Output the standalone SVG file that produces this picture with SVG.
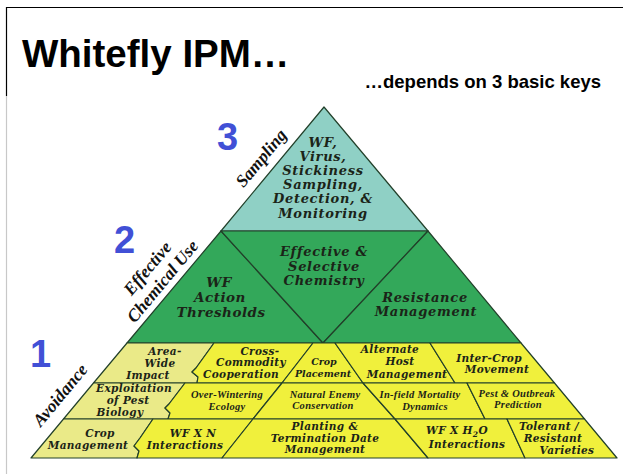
<svg xmlns="http://www.w3.org/2000/svg" width="623" height="474" viewBox="0 0 623 474">
<style>
.t{font-family:"DejaVu Serif",serif;font-weight:bold;font-style:italic;fill:#1b2418;text-anchor:middle}
.b{font-size:13.5px;letter-spacing:0.5px}
.tb{font-size:13px;letter-spacing:0.7px}
.s{font-size:10.5px;letter-spacing:0.35px}
.xs{font-size:9.5px}
.tn{font-family:"Liberation Serif",serif;font-weight:bold;font-style:italic;font-size:10.5px;letter-spacing:0.3px;fill:#1b2418;text-anchor:middle}
.side{font-family:"Liberation Serif",serif;font-weight:bold;font-style:italic;font-size:17.5px;fill:#111;text-anchor:middle}
.num{font-family:"Liberation Sans",Arial,sans-serif;font-weight:bold;font-size:38px;fill:#4150d6}
.e{stroke:#22402a;stroke-width:1.2;stroke-linejoin:round}
.teal{fill:#8fd0c5}
.green{fill:#33a85a}
.y{fill:#f0f03c}
.p{fill:#eaea88}
</style>
<rect width="623" height="474" fill="#fff"/>
<g id="frame" fill="none">
<line x1="6" y1="7.5" x2="623" y2="7.5" stroke="#000" stroke-width="1.2"/>
<line x1="6.5" y1="7" x2="6.5" y2="96" stroke="#000" stroke-width="1.2"/>
<line x1="6.5" y1="96" x2="6.5" y2="474" stroke="#c8c8c8" stroke-width="1.2"/>
</g>
<g id="title" font-family="'Liberation Sans',Arial,sans-serif" font-weight="bold" fill="#000">
<text x="22" y="67" font-size="38.5">Whitefly IPM…</text>
<text x="601" y="88" font-size="18.5" text-anchor="end">…depends on 3 basic keys</text>
</g>
<g id="numbers">
<text class="num" x="217" y="150">3</text>
<text class="num" x="114" y="253">2</text>
<text class="num" x="30" y="367">1</text>
</g>
<g id="side-labels">
<text class="side" transform="translate(265.5,161.8) rotate(-50.3)">Sampling</text>
<text class="side" transform="translate(152,272) rotate(-50.3)">Effective</text>
<text class="side" transform="translate(167,285) rotate(-50.3)">Chemical Use</text>
<text class="side" transform="translate(64.6,398.8) rotate(-50.3)">Avoidance</text>
</g>
<g id="tier3-sampling">
<polygon class="teal e" points="324,107 428,231 221,231"/>
<text class="t tb" x="323" y="146.5">WF,</text>
<text class="t tb" x="323" y="160.7">Virus,</text>
<text class="t tb" x="323" y="174.9">Stickiness</text>
<text class="t tb" x="323" y="189.1">Sampling,</text>
<text class="t tb" x="323" y="203.3">Detection, &amp;</text>
<text class="t tb" x="323" y="217.5">Monitoring</text>
</g>
<g id="wf-action-thresholds">
<polygon class="green e" points="221,231 323,343 127,343"/>
<text class="t b" x="219" y="287">WF</text>
<text class="t b" x="220" y="302">Action</text>
<text class="t b" x="221" y="317">Thresholds</text>
</g>
<g id="selective-chemistry">
<polygon class="green e" points="221,231 428,231 323,343"/>
<text class="t tb" x="324" y="256.3">Effective &amp;</text>
<text class="t tb" x="324" y="270.6">Selective</text>
<text class="t tb" x="324" y="284.9">Chemistry</text>
</g>
<g id="resistance-management">
<polygon class="green e" points="428,231 521,343 323,343"/>
<text class="t tb" x="425" y="301.5">Resistance</text>
<text class="t tb" x="426" y="315.8">Management</text>
</g>
<g id="area-wide-impact">
<polygon class="p e" points="127,343 214,343 196,368 192,372 198,377 197,383 93.5,383"/>
<text class="t s" x="165" y="355">Area-</text>
<text class="t s" x="160" y="367">Wide</text>
<text class="t s" x="148" y="379">Impact</text>
</g>
<g id="cross-commodity">
<polygon class="y e" points="214,343 313,343 282,383 197,383 198,377 192,372 196,368"/>
<text class="t s" x="260" y="355">Cross-</text>
<text class="t s" x="251" y="366">Commodity</text>
<text class="t s" x="241" y="378">Cooperation</text>
</g>
<g id="crop-placement">
<polygon class="y e" points="313,343 335,343 363,383 282,383"/>
<text class="t xs" x="324" y="365">Crop</text>
<text class="t xs" x="323" y="377">Placement</text>
</g>
<g id="alternate-host">
<polygon class="y e" points="335,343 430,343 455,383 363,383"/>
<text class="t s" x="390" y="353">Alternate</text>
<text class="t s" x="400" y="365">Host</text>
<text class="t s" x="407" y="378">Management</text>
</g>
<g id="inter-crop">
<polygon class="y e" points="430,343 521,343 554.5,383 455,383"/>
<text class="t s" x="489" y="362">Inter-Crop</text>
<text class="t s" x="497" y="373">Movement</text>
</g>
<g id="exploitation">
<polygon class="p e" points="93.5,383 185,383 169,404 165,408 170,413 168,419 63.5,419"/>
<text class="t s" x="134" y="392">Exploitation</text>
<text class="t s" x="128" y="404">of Pest</text>
<text class="t s" x="120" y="416">Biology</text>
</g>
<g id="over-wintering">
<polygon class="y e" points="185,383 282,383 253,419 168,419 170,413 165,408 169,404"/>
<text class="tn" x="227" y="398">Over-Wintering</text>
<text class="tn" x="227" y="410">Ecology</text>
</g>
<g id="natural-enemy">
<polygon class="y e" points="282,383 363,383 395,419 253,419"/>
<text class="tn" x="325" y="398">Natural Enemy</text>
<text class="tn" x="323" y="409">Conservation</text>
</g>
<g id="in-field-mortality">
<polygon class="y e" points="363,383 467,383 485,419 395,419"/>
<text class="tn" x="420" y="398">In-field Mortality</text>
<text class="tn" x="425" y="410">Dynamics</text>
</g>
<g id="pest-outbreak">
<polygon class="y e" points="467,383 554.5,383 584.5,419 485,419"/>
<text class="tn" x="517" y="397">Pest &amp; Outbreak</text>
<text class="tn" x="518" y="408">Prediction</text>
</g>
<g id="crop-management">
<polygon class="p e" points="63.5,419 153,419 140,438 134,446 139,451 137,458 31,458"/>
<text class="t s" x="100" y="437">Crop</text>
<text class="t s" x="88" y="449">Management</text>
</g>
<g id="wf-x-n">
<polygon class="y e" points="153,419 253,419 222,458 137,458 139,451 134,446 140,438"/>
<text class="t s" x="193" y="437">WF X N</text>
<text class="t s" x="185" y="449">Interactions</text>
</g>
<g id="planting-termination">
<polygon class="y e" points="253,419 395,419 428,458 222,458"/>
<text class="t s" x="325" y="430">Planting &amp;</text>
<text class="t s" x="325" y="442">Termination Date</text>
<text class="t s" x="325" y="453">Management</text>
</g>
<g id="wf-x-h2o">
<polygon class="y e" points="395,419 507,419 525,458 428,458"/>
<text class="t s" x="457" y="434">WF X H<tspan font-size="7.5" dy="2.5">2</tspan><tspan dy="-2.5">O</tspan></text>
<text class="t s" x="467" y="448">Interactions</text>
</g>
<g id="tolerant-varieties">
<polygon class="y e" points="507,419 584.5,419 617,458 525,458"/>
<text class="t s" x="549" y="430">Tolerant /</text>
<text class="t s" x="553" y="442">Resistant</text>
<text class="t s" x="567" y="454">Varieties</text>
</g>
<g id="connectors"/>
</svg>
